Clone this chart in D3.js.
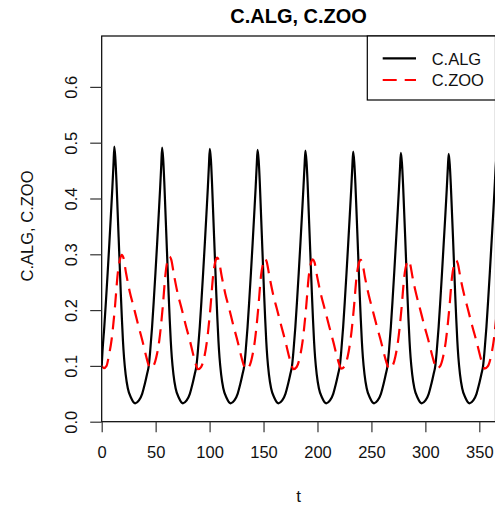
<!DOCTYPE html>
<html>
<head>
<meta charset="utf-8">
<script src="https://cdn.jsdelivr.net/npm/d3@7"></script>
<style>
  html, body { margin: 0; padding: 0; background: #fff; }
  svg { display: block; font-family: "Liberation Sans", Arial, sans-serif; }
</style>
</head>
<body>
<svg id="chart" width="495" height="506"></svg>
<script>
// values
const tAlg = [0, 0.7, 2.4, 4.0, 5.5, 7.1, 8.6, 9.9, 10.9,
  11.7, 12.7, 13.7, 14.7, 15.7, 16.7, 17.7, 18.7, 19.7, 20.7, 22.2, 24.2, 27.2, 31.0,
  34.5, 37.5, 40.0, 42.0, 43.6, 45.0, 46.7, 48.3, 49.8, 51.4, 52.9, 54.2, 55.2,
  56.0, 57.0, 58.0, 59.0, 60.0, 61.0, 62.0, 63.0, 64.0, 65.0, 66.5, 68.5, 71.5, 75.3,
  78.7, 81.7, 84.2, 86.2, 87.8, 89.2, 90.9, 92.5, 94.0, 95.6, 97.1, 98.4, 99.4,
  100.2, 101.2, 102.2, 103.2, 104.2, 105.2, 106.2, 107.2, 108.2, 109.2, 110.7, 112.7, 115.7, 119.5,
  123.0, 126.0, 128.5, 130.5, 132.1, 133.5, 135.2, 136.8, 138.3, 139.9, 141.4, 142.7, 143.7,
  144.5, 145.5, 146.5, 147.5, 148.5, 149.5, 150.5, 151.5, 152.5, 153.5, 155.0, 157.0, 160.0, 163.8,
  167.3, 170.3, 172.8, 174.8, 176.4, 177.8, 179.5, 181.1, 182.6, 184.2, 185.7, 187.0, 188.0,
  188.8, 189.8, 190.8, 191.8, 192.8, 193.8, 194.8, 195.8, 196.8, 197.8, 199.3, 201.3, 204.3, 208.1,
  211.6, 214.6, 217.1, 219.1, 220.7, 222.1, 223.8, 225.4, 226.9, 228.5, 230.0, 231.3, 232.3,
  233.1, 234.1, 235.1, 236.1, 237.1, 238.1, 239.1, 240.1, 241.1, 242.1, 243.6, 245.6, 248.6, 252.4,
  255.8, 258.8, 261.3, 263.3, 264.9, 266.3, 268.0, 269.6, 271.1, 272.7, 274.2, 275.5, 276.5,
  277.3, 278.3, 279.3, 280.3, 281.3, 282.3, 283.3, 284.3, 285.3, 286.3, 287.8, 289.8, 292.8, 296.6,
  300.1, 303.1, 305.6, 307.6, 309.2, 310.6, 312.3, 313.9, 315.4, 317.0, 318.5, 319.8, 320.8,
  321.6, 322.6, 323.6, 324.6, 325.6, 326.6, 327.6, 328.6, 329.6, 330.6, 332.1, 334.1, 337.1, 340.9,
  344.4, 347.4, 349.9, 351.9, 353.5, 354.9, 356.6, 358.2, 359.7, 361.3, 362.8, 364.1, 365.1, 365.9];
const cAlg = [0.100, 0.125, 0.170, 0.218, 0.266, 0.320, 0.373, 0.420, 0.460,
  0.493, 0.470, 0.430, 0.380, 0.330, 0.280, 0.230, 0.185, 0.145, 0.115, 0.085, 0.060, 0.043, 0.033,
  0.038, 0.050, 0.068, 0.085, 0.100, 0.128, 0.170, 0.218, 0.266, 0.320, 0.373, 0.420, 0.460,
  0.491, 0.470, 0.430, 0.380, 0.330, 0.280, 0.230, 0.185, 0.145, 0.115, 0.085, 0.060, 0.043, 0.033,
  0.038, 0.050, 0.068, 0.085, 0.100, 0.128, 0.170, 0.218, 0.266, 0.320, 0.373, 0.420, 0.460,
  0.489, 0.470, 0.430, 0.380, 0.330, 0.280, 0.230, 0.185, 0.145, 0.115, 0.085, 0.060, 0.043, 0.033,
  0.038, 0.050, 0.068, 0.085, 0.100, 0.128, 0.170, 0.218, 0.266, 0.320, 0.373, 0.420, 0.460,
  0.487, 0.468, 0.430, 0.380, 0.330, 0.280, 0.230, 0.185, 0.145, 0.115, 0.085, 0.060, 0.043, 0.033,
  0.038, 0.050, 0.068, 0.085, 0.100, 0.128, 0.170, 0.218, 0.266, 0.320, 0.373, 0.420, 0.458,
  0.486, 0.467, 0.430, 0.380, 0.330, 0.280, 0.230, 0.185, 0.145, 0.115, 0.085, 0.060, 0.043, 0.033,
  0.038, 0.050, 0.068, 0.085, 0.100, 0.128, 0.170, 0.218, 0.266, 0.320, 0.372, 0.418, 0.457,
  0.484, 0.465, 0.428, 0.380, 0.330, 0.280, 0.230, 0.185, 0.145, 0.115, 0.085, 0.060, 0.043, 0.033,
  0.038, 0.050, 0.068, 0.085, 0.100, 0.128, 0.170, 0.218, 0.266, 0.320, 0.371, 0.417, 0.455,
  0.482, 0.463, 0.426, 0.378, 0.330, 0.280, 0.230, 0.185, 0.145, 0.115, 0.085, 0.060, 0.043, 0.033,
  0.038, 0.050, 0.068, 0.085, 0.100, 0.128, 0.170, 0.218, 0.266, 0.320, 0.370, 0.416, 0.454,
  0.480, 0.461, 0.424, 0.377, 0.330, 0.280, 0.230, 0.185, 0.145, 0.115, 0.085, 0.060, 0.043, 0.033,
  0.038, 0.050, 0.068, 0.085, 0.100, 0.128, 0.170, 0.218, 0.266, 0.320, 0.370, 0.416, 0.454, 0.478];

const tZoo = [0, 2.0, 4.5, 6.6, 9.1, 12.3, 14.9, 17.1,
  18.6, 20.1, 22.6, 26.1, 29.6, 33.6, 37.6, 41.1, 43.4, 44.9,
  47.9, 50.9, 53.4, 56.6, 59.2, 61.4,
  62.9, 64.4, 66.9, 70.4, 73.9, 77.9, 81.9, 85.4, 87.7, 89.2,
  92.1, 95.1, 97.6, 100.8, 103.4, 105.6,
  107.1, 108.6, 111.1, 114.6, 118.1, 122.1, 126.1, 129.6, 131.9, 133.4,
  136.4, 139.4, 141.9, 145.1, 147.7, 149.9,
  151.4, 152.9, 155.4, 158.9, 162.4, 166.4, 170.4, 173.9, 176.2, 177.7,
  180.7, 183.7, 186.2, 189.4, 192.0, 194.2,
  195.7, 197.2, 199.7, 203.2, 206.7, 210.7, 214.7, 218.2, 220.5, 222.0,
  225.0, 228.0, 230.5, 233.7, 236.3, 238.5,
  240.0, 241.5, 244.0, 247.5, 251.0, 255.0, 259.0, 262.5, 264.8, 266.3,
  269.2, 272.2, 274.7, 277.9, 280.5, 282.7,
  284.2, 285.7, 288.2, 291.7, 295.2, 299.2, 303.2, 306.7, 309.0, 310.5,
  313.5, 316.5, 319.0, 322.2, 324.8, 327.0,
  328.5, 330.0, 332.5, 336.0, 339.5, 343.5, 347.5, 351.0, 353.3, 354.8,
  357.8, 360.8, 363.3, 366.5];
const cZoo = [0.100, 0.096, 0.100, 0.118, 0.146, 0.206, 0.266, 0.292,
  0.299, 0.294, 0.266, 0.232, 0.206, 0.175, 0.146, 0.118, 0.102, 0.096,
  0.100, 0.118, 0.146, 0.206, 0.266, 0.292,
  0.296, 0.291, 0.264, 0.230, 0.204, 0.173, 0.144, 0.116, 0.100, 0.094,
  0.098, 0.116, 0.145, 0.205, 0.264, 0.289,
  0.294, 0.289, 0.262, 0.229, 0.203, 0.172, 0.143, 0.115, 0.100, 0.094,
  0.098, 0.116, 0.144, 0.203, 0.262, 0.286,
  0.292, 0.287, 0.261, 0.228, 0.202, 0.172, 0.143, 0.115, 0.100, 0.094,
  0.098, 0.116, 0.144, 0.203, 0.262, 0.286,
  0.291, 0.286, 0.260, 0.228, 0.202, 0.172, 0.143, 0.116, 0.101, 0.095,
  0.099, 0.117, 0.145, 0.203, 0.261, 0.285,
  0.290, 0.285, 0.259, 0.227, 0.201, 0.171, 0.143, 0.116, 0.101, 0.095,
  0.099, 0.117, 0.145, 0.203, 0.261, 0.284,
  0.289, 0.284, 0.258, 0.227, 0.201, 0.171, 0.143, 0.116, 0.101, 0.095,
  0.099, 0.117, 0.145, 0.203, 0.261, 0.284,
  0.289, 0.284, 0.258, 0.227, 0.201, 0.171, 0.143, 0.116, 0.101, 0.095,
  0.099, 0.117, 0.145, 0.203];

const xTicks = [0, 50, 100, 150, 200, 250, 300, 350];
const yTicks = [0.0, 0.1, 0.2, 0.3, 0.4, 0.5, 0.6];
const seriesNames = ["C.ALG", "C.ZOO"];
const title = "C.ALG, C.ZOO";

const svg = d3.select("#chart");
const plotL = 101.7, plotR = 495.5, plotT = 36, plotB = 421.7;

const x = d3.scaleLinear().domain([0, 365]).range([plotL, plotR]);
const y = d3.scaleLinear().domain([0, 0.6912]).range([plotB, plotT]);

svg.append("defs").append("clipPath").attr("id", "plotClip")
  .append("rect").attr("x", plotL).attr("y", plotT)
  .attr("width", plotR - plotL).attr("height", plotB - plotT);

// lines
const line = d3.line().x(d => x(d[0])).y(d => y(d[1])).curve(d3.curveMonotoneX);
const alg = tAlg.map((t, i) => [t, cAlg[i]]);
const zoo = tZoo.map((t, i) => [t, cZoo[i]]);

const g = svg.append("g").attr("clip-path", "url(#plotClip)");
g.append("path").datum(alg).attr("d", line)
  .attr("fill", "none").attr("stroke", "#000").attr("stroke-width", 2.2);
g.append("path").datum(zoo).attr("d", line)
  .attr("fill", "none").attr("stroke", "#ff0000").attr("stroke-width", 2.2)
  .attr("stroke-dasharray", "14,8");

// box
svg.append("rect").attr("x", plotL).attr("y", plotT)
  .attr("width", plotR - plotL).attr("height", plotB - plotT)
  .attr("fill", "none").attr("stroke", "#000").attr("stroke-width", 1.2);

// axes
const xAxis = d3.axisBottom(x).tickValues(xTicks).tickSize(10.5).tickPadding(14)
  .tickFormat(d3.format("d"));
const xg = svg.append("g").attr("transform", `translate(0,${plotB})`).call(xAxis);
xg.select(".domain").remove();
xg.selectAll("line").attr("stroke", "#333").attr("stroke-width", 1.2);
xg.selectAll("text").attr("font-size", 16.5).attr("fill", "#111")
  .attr("font-family", "Liberation Sans, Arial, sans-serif");

const yAxis = d3.axisLeft(y).tickValues(yTicks).tickSize(11.5).tickFormat(d3.format(".1f"));
const yg = svg.append("g").attr("transform", `translate(${plotL},0)`).call(yAxis);
yg.select(".domain").remove();
yg.selectAll("line").attr("stroke", "#333").attr("stroke-width", 1.2);
yg.selectAll("text")
  .attr("font-size", 16.5).attr("fill", "#111")
  .attr("font-family", "Liberation Sans, Arial, sans-serif")
  .attr("x", null).attr("dy", null)
  .attr("text-anchor", "middle")
  .attr("transform", `translate(${77 - plotL},0) rotate(-90)`);

// titles
svg.append("text").attr("x", (plotL + plotR) / 2).attr("y", 22.7)
  .attr("text-anchor", "middle").attr("font-weight", "bold").attr("font-size", 20)
  .attr("fill", "#000").text(title);
svg.append("text").attr("x", 298.5).attr("y", 501.7)
  .attr("text-anchor", "middle").attr("font-size", 17).attr("fill", "#111").text("t");
svg.append("text").attr("transform", "translate(33.3,226) rotate(-90)")
  .attr("text-anchor", "middle").attr("font-size", 16.5).attr("fill", "#111").text(title);

// legend
const lg = svg.append("g");
lg.append("rect").attr("x", 367.3).attr("y", plotT).attr("width", plotR - 367.3).attr("height", 64)
  .attr("fill", "#fff").attr("stroke", "#000").attr("stroke-width", 1.2);
const legendRows = [
  { name: seriesNames[0], color: "#000", dash: null, y: 58.3 },
  { name: seriesNames[1], color: "#ff0000", dash: "14,8", y: 80 },
];
legendRows.forEach(r => {
  lg.append("line").attr("x1", 382.7).attr("x2", 416).attr("y1", r.y).attr("y2", r.y)
    .attr("stroke", r.color).attr("stroke-width", 2.2).attr("stroke-dasharray", r.dash);
  lg.append("text").attr("x", 431.7).attr("y", r.y + 6.2)
    .attr("font-size", 16.5).attr("fill", "#111").text(r.name);
});
</script>
</body>
</html>
